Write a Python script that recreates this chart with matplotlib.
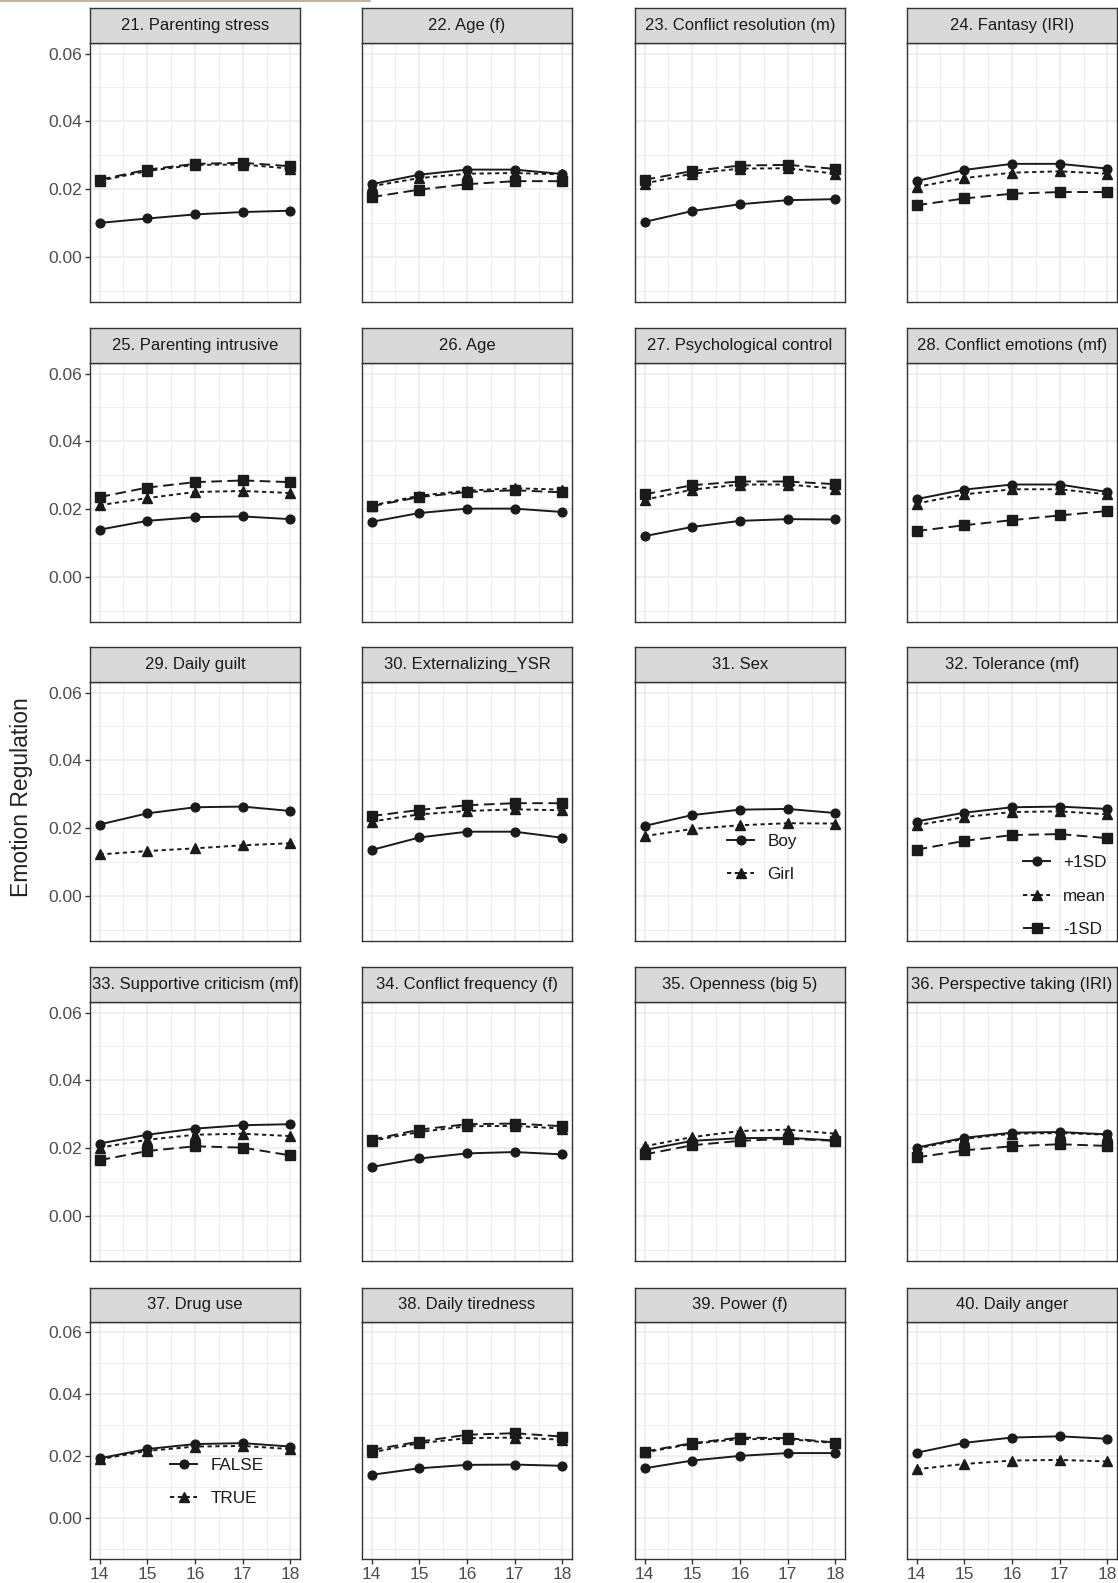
import matplotlib
matplotlib.use("Agg")
import matplotlib.pyplot as plt
from matplotlib.lines import Line2D
import numpy as np

plt.rcParams['font.family'] = ['Liberation Sans', 'DejaVu Sans']

ages = [14, 15, 16, 17, 18]

titles = [
    "21. Parenting stress", "22. Age (f)", "23. Conflict resolution (m)", "24. Fantasy (IRI)",
    "25. Parenting intrusive", "26. Age", "27. Psychological control", "28. Conflict emotions (mf)",
    "29. Daily guilt", "30. Externalizing_YSR", "31. Sex", "32. Tolerance (mf)",
    "33. Supportive criticism (mf)", "34. Conflict frequency (f)", "35. Openness (big 5)", "36. Perspective taking (IRI)",
    "37. Drug use", "38. Daily tiredness", "39. Power (f)", "40. Daily anger",
]

# solid line, circles (+1SD / Boy / FALSE)
circle_vals = [
    [0.0101, 0.0114, 0.0126, 0.0133, 0.0137],
    [0.0215, 0.0243, 0.0258, 0.0258, 0.0245],
    [0.0104, 0.0136, 0.0156, 0.0168, 0.0171],
    [0.0224, 0.0257, 0.0275, 0.0275, 0.0261],
    [0.0140, 0.0166, 0.0177, 0.0179, 0.0171],
    [0.0163, 0.0189, 0.0202, 0.0202, 0.0192],
    [0.0121, 0.0148, 0.0166, 0.0171, 0.0170],
    [0.0230, 0.0258, 0.0273, 0.0273, 0.0251],
    [0.0211, 0.0244, 0.0262, 0.0264, 0.0251],
    [0.0136, 0.0173, 0.0190, 0.0190, 0.0172],
    [0.0207, 0.0239, 0.0255, 0.0257, 0.0245],
    [0.0220, 0.0246, 0.0262, 0.0264, 0.0257],
    [0.0214, 0.0240, 0.0258, 0.0268, 0.0271],
    [0.0145, 0.0170, 0.0185, 0.0189, 0.0182],
    [0.0195, 0.0222, 0.0230, 0.0231, 0.0223],
    [0.0202, 0.0231, 0.0246, 0.0248, 0.0241],
    [0.0192, 0.0222, 0.0238, 0.0241, 0.0230],
    [0.0139, 0.0160, 0.0171, 0.0172, 0.0168],
    [0.0160, 0.0185, 0.0200, 0.0209, 0.0209],
    [0.0210, 0.0242, 0.0259, 0.0263, 0.0255],
]

# dotted line, triangles (mean / Girl / TRUE)
tri_vals = [
    [0.0225, 0.0254, 0.0272, 0.0273, 0.0261],
    [0.0209, 0.0233, 0.0246, 0.0248, 0.0244],
    [0.0217, 0.0246, 0.0261, 0.0262, 0.0246],
    [0.0207, 0.0233, 0.0249, 0.0253, 0.0246],
    [0.0212, 0.0233, 0.0251, 0.0254, 0.0248],
    [0.0211, 0.0240, 0.0255, 0.0262, 0.0258],
    [0.0228, 0.0258, 0.0273, 0.0273, 0.0261],
    [0.0217, 0.0244, 0.0259, 0.0259, 0.0244],
    [0.0123, 0.0133, 0.0141, 0.0150, 0.0156],
    [0.0220, 0.0241, 0.0251, 0.0256, 0.0253],
    [0.0177, 0.0198, 0.0209, 0.0215, 0.0214],
    [0.0209, 0.0233, 0.0248, 0.0250, 0.0241],
    [0.0202, 0.0225, 0.0240, 0.0243, 0.0236],
    [0.0222, 0.0248, 0.0265, 0.0266, 0.0258],
    [0.0206, 0.0233, 0.0251, 0.0255, 0.0243],
    [0.0199, 0.0228, 0.0243, 0.0245, 0.0240],
    [0.0189, 0.0216, 0.0230, 0.0232, 0.0222],
    [0.0211, 0.0241, 0.0257, 0.0259, 0.0252],
    [0.0211, 0.0239, 0.0254, 0.0254, 0.0241],
    [0.0157, 0.0174, 0.0185, 0.0187, 0.0182],
]

# dashed line, squares (-1SD); None where the panel has two groups only
sq_vals = [
    [0.0228, 0.0258, 0.0275, 0.0278, 0.0268],
    [0.0177, 0.0199, 0.0215, 0.0224, 0.0224],
    [0.0228, 0.0254, 0.0270, 0.0272, 0.0260],
    [0.0153, 0.0173, 0.0187, 0.0192, 0.0192],
    [0.0236, 0.0264, 0.0280, 0.0285, 0.0280],
    [0.0209, 0.0236, 0.0251, 0.0256, 0.0250],
    [0.0244, 0.0271, 0.0282, 0.0282, 0.0274],
    [0.0136, 0.0153, 0.0168, 0.0182, 0.0195],
    None,
    [0.0236, 0.0254, 0.0268, 0.0274, 0.0274],
    None,
    [0.0137, 0.0163, 0.0180, 0.0183, 0.0171],
    [0.0165, 0.0192, 0.0206, 0.0202, 0.0179],
    [0.0225, 0.0255, 0.0271, 0.0273, 0.0265],
    [0.0182, 0.0209, 0.0222, 0.0228, 0.0222],
    [0.0173, 0.0194, 0.0206, 0.0212, 0.0207],
    None,
    [0.0219, 0.0246, 0.0268, 0.0273, 0.0262],
    [0.0214, 0.0241, 0.0259, 0.0257, 0.0243],
    None,
]

W, H = 1118, 1583
fig = plt.figure(figsize=(W / 100, H / 100), dpi=100)

col_left = [90, 362, 635, 907]
panel_w = 210
# (strip top, strip bottom, panel bottom) in pixels
rows = [(8, 43, 302), (328, 363, 622), (647, 682, 941), (967, 1002, 1261), (1288, 1322, 1559)]

ink = '#1a1a1a'
solid = dict(color=ink, lw=1.4, ls='-', marker='o', ms=6.3)
dotted = dict(color=ink, lw=1.4, ls=(0, (2.2, 1.8)), marker='^', ms=7.0)
dashed = dict(color=ink, lw=1.4, ls=(0, (5.5, 2.8)), marker='s', ms=6.6)

axes = []
for i, title in enumerate(titles):
    r, c = divmod(i, 4)
    st, sb, pb = rows[r]
    x0 = col_left[c]
    ax = fig.add_axes([x0 / W, 1 - pb / H, panel_w / W, (pb - sb) / H])
    sax = fig.add_axes([x0 / W, 1 - sb / H, panel_w / W, (sb - st) / H])

    ax.set_xlim(13.8, 18.2)
    ax.set_ylim(-0.0132, 0.0631)
    ax.set_xticks(ages)
    ax.set_xticks([14.5, 15.5, 16.5, 17.5], minor=True)
    ax.set_yticks([0.00, 0.02, 0.04, 0.06])
    ax.set_yticks([-0.01, 0.01, 0.03, 0.05], minor=True)
    ax.grid(True, which='major', color='#ebebeb', lw=1.1)
    ax.grid(True, which='minor', color='#ebebeb', lw=0.55)
    ax.set_axisbelow(True)
    for s in ax.spines.values():
        s.set_color('#333333')
        s.set_linewidth(1.0)
    ax.tick_params(which='minor', length=0)
    ax.tick_params(which='major', color='#333333', length=3.5, width=1.0,
                   labelsize=12.5, labelcolor='#4d4d4d', pad=2)
    if c == 0:
        ax.set_yticklabels(['0.00', '0.02', '0.04', '0.06'])
    else:
        ax.tick_params(axis='y', left=False, labelleft=False)
    if r == len(rows) - 1:
        ax.set_xticklabels([str(a) for a in ages])
    else:
        ax.tick_params(axis='x', bottom=False, labelbottom=False)

    ax.plot(ages, circle_vals[i], **solid)
    ax.plot(ages, tri_vals[i], **dotted)
    if sq_vals[i] is not None:
        ax.plot(ages, sq_vals[i], **dashed)

    sax.set_facecolor('#d9d9d9')
    sax.set_xticks([])
    sax.set_yticks([])
    for s in sax.spines.values():
        s.set_color('#333333')
        s.set_linewidth(1.0)
    sax.text(0.5, 0.5, title, ha='center', va='center', fontsize=12,
             color='#1a1a1a', transform=sax.transAxes, clip_on=True)
    axes.append(ax)


def add_legend(ax, labels, styles, x_px, y_px):
    handles = [Line2D([], [], **st) for st in styles]
    ax.legend(handles, labels, loc='center left', bbox_to_anchor=(x_px / W, 1 - y_px / H),
              bbox_transform=fig.transFigure, frameon=False, borderpad=0, borderaxespad=0,
              handlelength=1.6, handletextpad=0.75, labelspacing=1.08, fontsize=12.3,
              numpoints=1, labelcolor='#1a1a1a')


add_legend(axes[10], ['Boy', 'Girl'], [solid, dotted], 727, 858)
add_legend(axes[11], ['+1SD', 'mean', '-1SD'], [solid, dotted, dashed], 1023, 896)
add_legend(axes[16], ['FALSE', 'TRUE'], [solid, dotted], 170, 1482)

fig.text(22 / W, 1 - 797 / H, 'Emotion Regulation', rotation=90, ha='center', va='center',
         fontsize=16.5, color='#222222')

# thin rule left over at the top edge of the source page
fig.add_artist(Line2D([0, 370 / W], [1 - 1 / H, 1 - 1 / H], transform=fig.transFigure,
                      color='#b5a48a', lw=1.2))

fig.savefig('out.png', dpi=100)
